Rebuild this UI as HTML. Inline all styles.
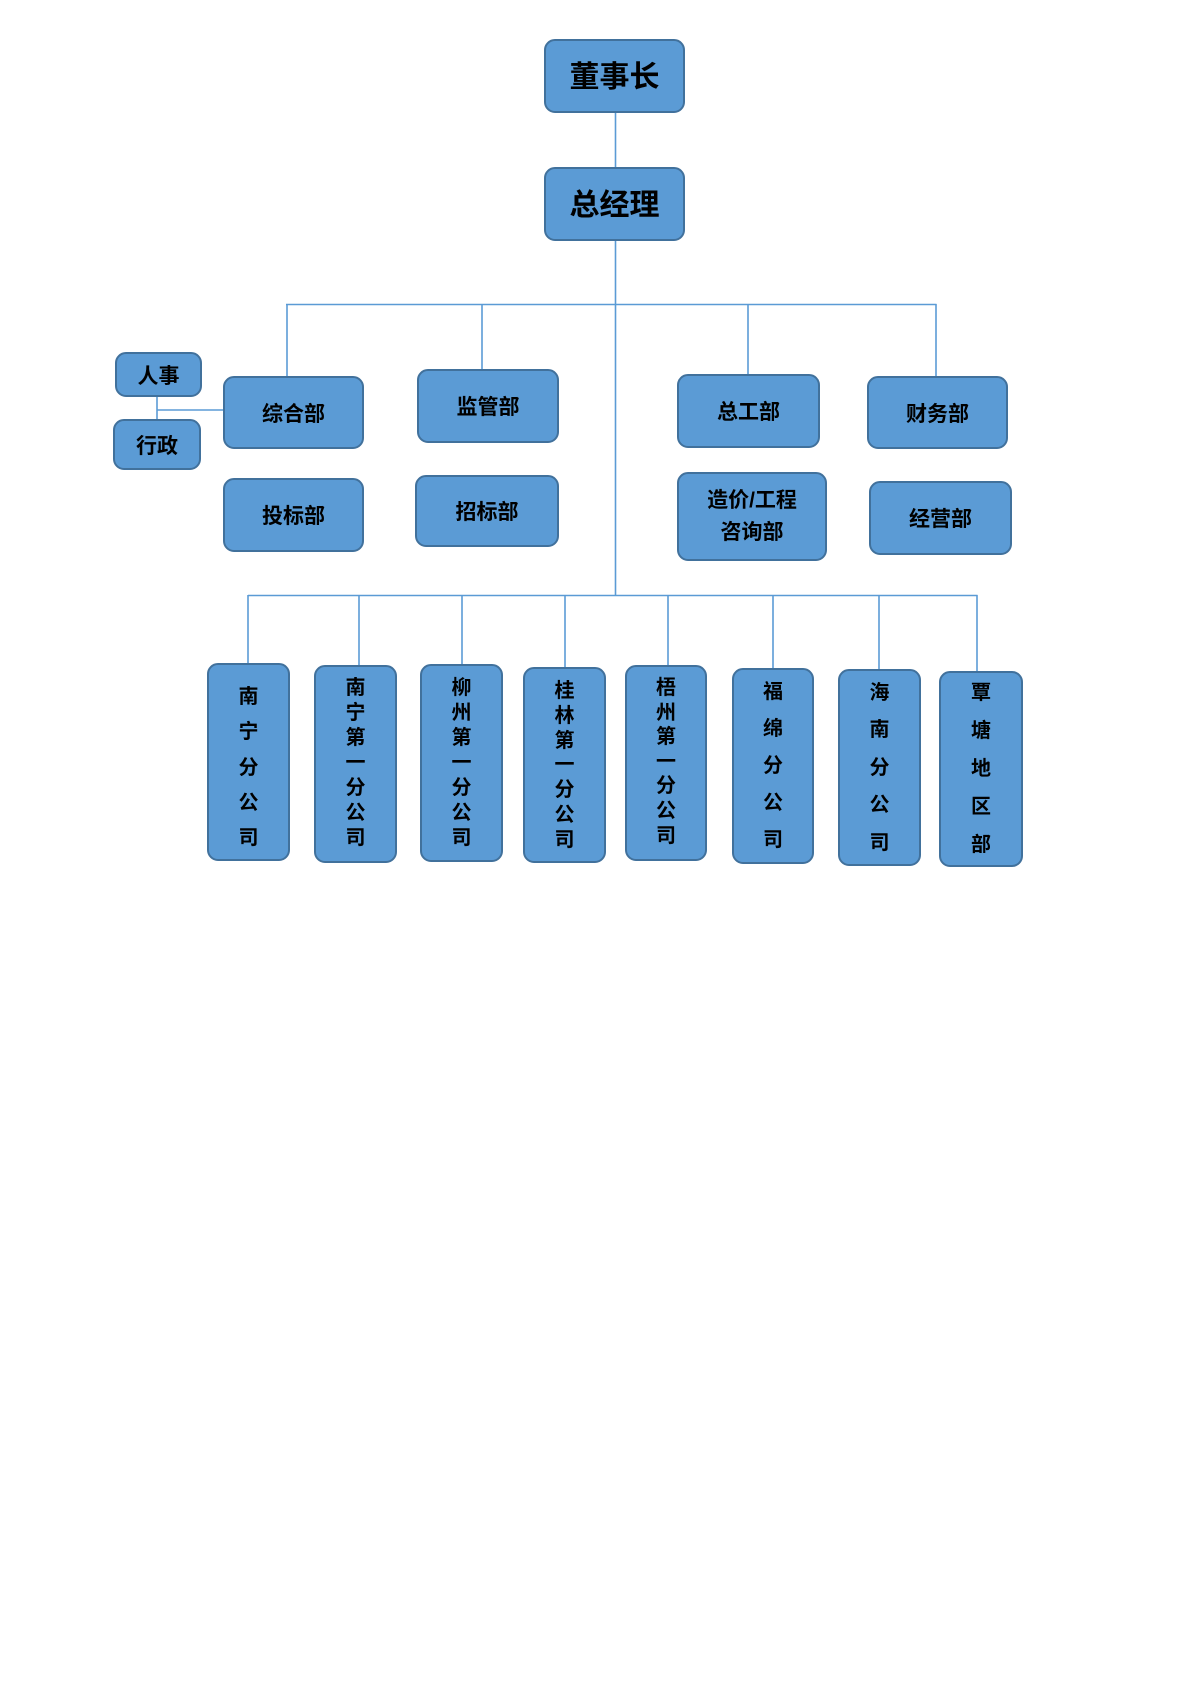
<!DOCTYPE html>
<html>
<head>
<meta charset="utf-8">
<style>
  html,body{margin:0;padding:0;background:#fff;}
  body{width:1200px;height:1696px;position:relative;overflow:hidden;
       font-family:"Liberation Sans","Noto Sans CJK SC","WenQuanYi Zen Hei",sans-serif;font-weight:700;color:#000;}
  .b{position:absolute;box-sizing:border-box;background:#5b9bd5;border:2px solid #41719c;border-radius:11px;
     display:flex;align-items:center;justify-content:center;text-align:center;}
  .v{position:absolute;box-sizing:border-box;background:#5b9bd5;border:2px solid #41719c;border-radius:11px;}
  .v span{position:absolute;left:0;right:0;text-align:center;font-size:20px;line-height:20px;height:20px;}
  svg{position:absolute;left:0;top:0;}
</style>
</head>
<body>
<svg width="1200" height="1696" viewBox="0 0 1200 1696">
  <g stroke="#5b9bd5" stroke-width="1.6" fill="none">
    <line x1="615.5" y1="113" x2="615.5" y2="167"/>
    <line x1="615.5" y1="241" x2="615.5" y2="596"/>
    <line x1="286" y1="304.5" x2="936.5" y2="304.5"/>
    <line x1="287" y1="304" x2="287" y2="376"/>
    <line x1="482" y1="304" x2="482" y2="369"/>
    <line x1="748" y1="304" x2="748" y2="374"/>
    <line x1="936" y1="304" x2="936" y2="376"/>
    <line x1="157" y1="397" x2="157" y2="419"/>
    <line x1="157" y1="410" x2="223" y2="410"/>
    <line x1="248" y1="595.5" x2="977.5" y2="595.5"/>
    <line x1="248" y1="595" x2="248" y2="663"/>
    <line x1="359" y1="595" x2="359" y2="665"/>
    <line x1="462" y1="595" x2="462" y2="664"/>
    <line x1="565" y1="595" x2="565" y2="667"/>
    <line x1="668" y1="595" x2="668" y2="665"/>
    <line x1="773" y1="595" x2="773" y2="668"/>
    <line x1="879" y1="595" x2="879" y2="669"/>
    <line x1="977" y1="595" x2="977" y2="671"/>
  </g>
</svg>

<div class="b" style="left:544px;top:39px;width:141px;height:74px;font-size:30px;padding-bottom:4px;">董事长</div>
<div class="b" style="left:544px;top:167px;width:141px;height:74px;font-size:30px;padding-bottom:4px;">总经理</div>

<div class="b" style="left:115px;top:352px;width:87px;height:45px;font-size:21px;">人事</div>
<div class="b" style="left:113px;top:419px;width:88px;height:51px;font-size:21px;">行政</div>

<div class="b" style="left:223px;top:376px;width:141px;height:73px;font-size:21px;">综合部</div>
<div class="b" style="left:223px;top:478px;width:141px;height:74px;font-size:21px;">投标部</div>
<div class="b" style="left:417px;top:369px;width:142px;height:74px;font-size:21px;">监管部</div>
<div class="b" style="left:415px;top:475px;width:144px;height:72px;font-size:21px;">招标部</div>
<div class="b" style="left:677px;top:374px;width:143px;height:74px;font-size:21px;">总工部</div>
<div class="b" style="left:677px;top:472px;width:150px;height:89px;font-size:21px;line-height:32px;">造价/工程<br>咨询部</div>
<div class="b" style="left:867px;top:376px;width:141px;height:73px;font-size:21px;">财务部</div>
<div class="b" style="left:869px;top:481px;width:143px;height:74px;font-size:21px;">经营部</div>

<div class="v" style="left:207px;top:663px;width:83px;height:198px;">
  <span style="top:22px">南</span><span style="top:57px">宁</span><span style="top:93px">分</span><span style="top:128px">公</span><span style="top:163px">司</span>
</div>
<div class="v" style="left:314px;top:665px;width:83px;height:198px;">
  <span style="top:11px">南</span><span style="top:36px">宁</span><span style="top:61px">第</span><span style="top:86px">一</span><span style="top:111px">分</span><span style="top:136px">公</span><span style="top:161px">司</span>
</div>
<div class="v" style="left:420px;top:664px;width:83px;height:198px;">
  <span style="top:12px">柳</span><span style="top:37px">州</span><span style="top:62px">第</span><span style="top:87px">一</span><span style="top:112px">分</span><span style="top:137px">公</span><span style="top:162px">司</span>
</div>
<div class="v" style="left:523px;top:667px;width:83px;height:196px;">
  <span style="top:12px">桂</span><span style="top:37px">林</span><span style="top:62px">第</span><span style="top:86px">一</span><span style="top:111px">分</span><span style="top:136px">公</span><span style="top:161px">司</span>
</div>
<div class="v" style="left:625px;top:665px;width:82px;height:196px;">
  <span style="top:11px">梧</span><span style="top:36px">州</span><span style="top:60px">第</span><span style="top:85px">一</span><span style="top:109px">分</span><span style="top:134px">公</span><span style="top:159px">司</span>
</div>
<div class="v" style="left:732px;top:668px;width:82px;height:196px;">
  <span style="top:12px">福</span><span style="top:49px">绵</span><span style="top:86px">分</span><span style="top:123px">公</span><span style="top:160px">司</span>
</div>
<div class="v" style="left:838px;top:669px;width:83px;height:197px;">
  <span style="top:12px">海</span><span style="top:49px">南</span><span style="top:87px">分</span><span style="top:124px">公</span><span style="top:162px">司</span>
</div>
<div class="v" style="left:939px;top:671px;width:84px;height:196px;">
  <span style="top:10px">覃</span><span style="top:48px">塘</span><span style="top:86px">地</span><span style="top:124px">区</span><span style="top:162px">部</span>
</div>
</body>
</html>
